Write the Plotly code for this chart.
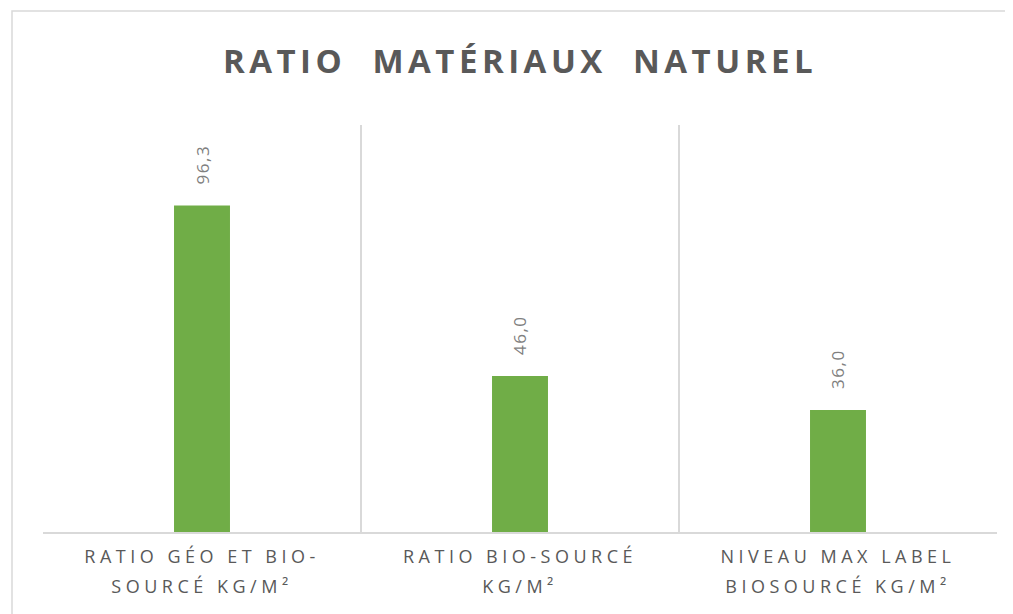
import plotly.graph_objects as go

categories = [
    "RATIO GÉO ET BIO-<br>SOURCÉ KG/M²",
    "RATIO BIO-SOURCÉ<br>KG/M²",
    "NIVEAU MAX LABEL<br>BIOSOURCÉ KG/M²",
]
values = [96.3, 46.0, 36.0]

GREEN = "#70ad47"
GRAY = "#595959"
GRID = "#d9d9d9"

fig = go.Figure(
    go.Bar(
        x=categories,
        y=values,
        marker_color=GREEN,
        marker_line=dict(width=0),
        hoverinfo="skip",
    )
)

# value labels, rotated, a little above each bar
for cat, val in zip(categories, values):
    fig.add_annotation(
        x=cat, y=val,
        text=f"{val:.1f}".replace(".", ","),
        textangle=-90,
        showarrow=False,
        yanchor="bottom",
        yshift=22,
        font=dict(size=17, color="#7f7f7f", family="Open Sans"),
    )

# outer chart frame
fig.add_shape(
    type="rect", xref="paper", yref="paper",
    x0=-0.0325, x1=1.03, y0=-0.5, y1=1.28,
    line=dict(color=GRID, width=1.5), layer="below",
)

fig.update_layout(
    width=1005,
    height=606,
    paper_bgcolor="white",
    plot_bgcolor="white",
    bargap=0.824,
    showlegend=False,
    margin=dict(l=35, r=16, t=117, b=82),
    title=dict(
        text="RATIO  MATÉRIAUX  NATUREL",
        xref="paper", x=0.5, xanchor="center", y=0.911, yanchor="middle",
        font=dict(size=33, color=GRAY, family="Open Sans", weight=700),
    ),
    xaxis=dict(
        tickson="boundaries",
        showgrid=True,
        gridcolor=GRID,
        gridwidth=1.5,
        showline=True,
        linecolor=GRID,
        linewidth=1.5,
        ticks="",
        ticklabelstandoff=8,
        tickfont=dict(size=18, color=GRAY, family="Open Sans"),
    ),
    yaxis=dict(
        range=[0, 120],
        showgrid=False,
        showticklabels=False,
        zeroline=False,
        showline=False,
    ),
)

# letter spacing as in the original (Excel-style spaced caps)
post = """
var gd = document.getElementById('{plot_id}');
gd.querySelectorAll('.gtitle').forEach(function(t){ t.style.letterSpacing = '4.5px'; });
gd.querySelectorAll('.xtick text').forEach(function(t){
    t.style.letterSpacing = '4.5px';
    var ls = t.querySelectorAll('tspan.line');
    if (ls.length > 1) { ls[1].setAttribute('dy', '30px'); }
});
gd.querySelectorAll('.annotation-text').forEach(function(t){ t.style.letterSpacing = '1.5px'; });
"""

fig.write_html("out.html", post_script=post)
